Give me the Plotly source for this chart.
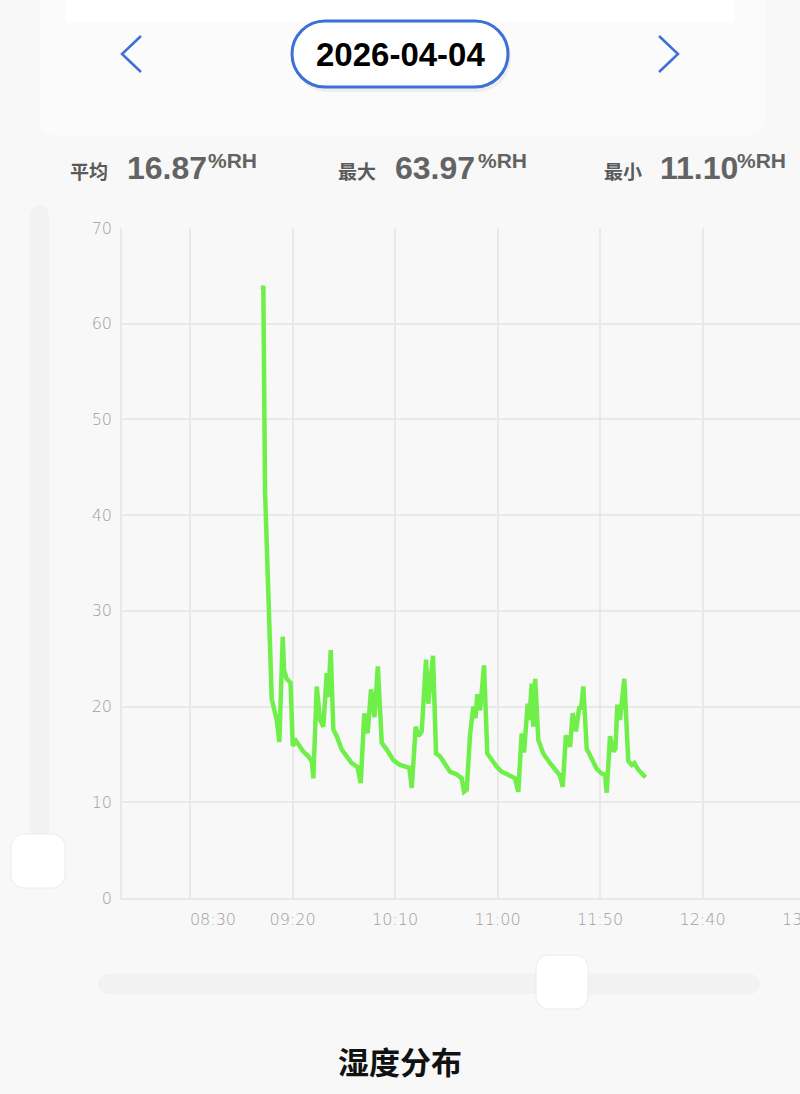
import plotly.graph_objects as go
import datetime as _dt

# ---------------- data ----------------
DATE = "2026-04-04"
times = [
    "09:05:22", "09:05:45", "09:06:35", "09:08:03", "09:09:51", "09:12:17", "09:13:34",
    "09:15:13", "09:15:51", "09:17:10", "09:19:01", "09:20:06", "09:21:42", "09:23:19",
    "09:25:16", "09:27:42", "09:29:22", "09:30:09", "09:31:48", "09:33:25", "09:35:01",
    "09:36:41", "09:37:28", "09:38:38", "09:39:54", "09:41:34", "09:44:00", "09:46:26",
    "09:48:53", "09:51:37", "09:53:16", "09:55:01", "09:56:41", "09:58:17", "10:00:00",
    "10:01:37", "10:03:31", "10:05:57", "10:09:10", "10:12:26", "10:15:43", "10:16:58",
    "10:18:09", "10:20:06", "10:21:22", "10:23:01", "10:25:07", "10:26:14", "10:28:32",
    "10:30:00", "10:31:57", "10:34:23", "10:36:50", "10:40:06", "10:42:32", "10:43:40",
    "10:44:58", "10:46:35", "10:48:11", "10:49:16", "10:50:09", "10:51:28", "10:53:25",
    "10:55:01", "10:57:10", "10:59:37", "11:02:03", "11:05:16", "11:08:32", "11:10:08",
    "11:11:48", "11:12:55", "11:14:44", "11:15:31", "11:16:41", "11:17:28", "11:18:23",
    "11:19:54", "11:22:20", "11:25:37", "11:28:53", "11:30:29", "11:31:48", "11:33:22",
    "11:35:22", "11:36:41", "11:38:17", "11:39:54", "11:40:44", "11:41:51", "11:43:31",
    "11:45:57", "11:48:23", "11:50:50", "11:52:26", "11:53:16", "11:54:53", "11:56:29",
    "11:57:34", "11:58:26", "11:59:45", "12:01:51", "12:03:48", "12:05:28", "12:06:44",
    "12:08:41", "12:10:20", "12:12:11",
]
humidity = [
    63.6, 63.97, 42.5, 32.0, 20.8, 18.6, 16.3,
    27.3, 23.8, 22.9, 22.5, 15.9, 16.4, 15.9,
    15.3, 14.8, 14.3, 12.5, 22.1, 18.6, 17.9,
    23.5, 21.0, 25.9, 17.6, 16.9, 15.5, 14.8,
    14.1, 13.7, 12.0, 19.3, 17.2, 21.8, 18.9,
    24.2, 16.2, 15.5, 14.4, 13.9, 13.7, 13.6,
    11.5, 17.9, 16.9, 17.4, 24.9, 20.3, 25.3,
    15.1, 14.8, 14.1, 13.2, 12.9, 12.5, 11.1,
    11.3, 17.0, 20.0, 18.8, 21.3, 19.6, 24.3,
    15.1, 14.4, 13.7, 13.2, 12.9, 12.5, 11.1,
    17.2, 15.2, 20.3, 18.6, 22.4, 17.9, 22.9,
    16.5, 15.1, 14.1, 13.2, 12.8, 11.6, 17.0,
    15.8, 19.3, 17.4, 20.0, 19.7, 22.1, 15.6,
    14.6, 13.5, 13.0, 12.9, 11.0, 16.9, 15.3,
    15.6, 20.2, 18.6, 22.9, 14.3, 13.9, 14.1,
    13.4, 13.0, 12.6,
]
tick_times = ["08:30", "09:20", "10:10", "11:00", "11:50", "12:40"]
extra_tick = "13:30"
x_range = ["07:56:48", "13:27:34"]
y_ticks = [0, 10, 20, 30, 40, 50, 60, 70]

stats_labels = ["平均", "最大", "最小"]
stats_values = ["16.87", "63.97", "11.10"]
unit = "%RH"
title_text = "湿度分布"

# ---------------- layout geometry (pixels) ----------------
W, H = 800, 1094
ML, MT, MB = 122, 228, 196
PW = W - ML
PH = H - MT - MB


def px(x):
    return (x - ML) / PW


def py(y):
    return (H - MB - y) / PH


def rr(x0, y0, x1, y1, r):
    k = 0.5523 * r
    pts = [
        f"M{px(x0 + r)},{py(y0)}",
        f"L{px(x1 - r)},{py(y0)}",
        f"C{px(x1 - r + k)},{py(y0)} {px(x1)},{py(y0 + r - k)} {px(x1)},{py(y0 + r)}",
        f"L{px(x1)},{py(y1 - r)}",
        f"C{px(x1)},{py(y1 - r + k)} {px(x1 - r + k)},{py(y1)} {px(x1 - r)},{py(y1)}",
        f"L{px(x0 + r)},{py(y1)}",
        f"C{px(x0 + r - k)},{py(y1)} {px(x0)},{py(y1 - r + k)} {px(x0)},{py(y1 - r)}",
        f"L{px(x0)},{py(y0 + r)}",
        f"C{px(x0)},{py(y0 + r - k)} {px(x0 + r - k)},{py(y0)} {px(x0 + r)},{py(y0)}",
        "Z",
    ]
    return " ".join(pts)


def polyline(points):
    return "M" + " L".join(f"{px(a)},{py(b)}" for a, b in points)


BG = "#f8f8f8"
GRID = "#e9e9e9"
LINE = "#70ef4a"
BLUE = "#3d70d6"
TICKFONT = dict(family="DejaVu Sans", size=16, color="#9e9e9e", weight=200)

x_vals = [f"{DATE} {t}" for t in times]

fig = go.Figure()
fig.add_trace(go.Scatter(
    x=x_vals, y=humidity, mode="lines",
    line=dict(color=LINE, width=4.5), hoverinfo="skip", showlegend=False,
))

tick_text = [("\u00a0" * 9 + t) if i == 0 else t for i, t in enumerate(tick_times)]


def shp(path, **kw):
    d = dict(type="path", path=path, xref="paper", yref="paper")
    d.update(kw)
    return d


shapes = [
    shp(rr(40, -20, 765, 135, 14), fillcolor="#fbfbfb", line=dict(width=0), layer="below"),
    shp(rr(65, -20, 735, 22, 4), fillcolor="#ffffff", line=dict(width=0), layer="below"),
    shp(rr(293, 24, 511, 92, 34), fillcolor="rgba(0,0,0,0.05)", line=dict(width=0)),
    shp(rr(292, 21, 508, 87, 33), fillcolor="#ffffff", line=dict(color=BLUE, width=3)),
    shp(polyline([(141, 36), (122, 54), (141, 72)]), line=dict(color=BLUE, width=2.5)),
    shp(polyline([(659, 36), (678, 54), (659, 72)]), line=dict(color=BLUE, width=2.5)),
    shp(rr(30, 206, 49, 880, 9), fillcolor="#f2f2f2", line=dict(width=0), layer="below"),
    shp(rr(11, 834, 65, 888, 13), fillcolor="#ffffff", line=dict(color="#ececec", width=1)),
    shp(rr(98, 974, 760, 994, 10), fillcolor="#f2f2f2", line=dict(width=0), layer="below"),
    shp(rr(536, 955, 588, 1009, 13), fillcolor="#ffffff", line=dict(color="#ececec", width=1)),
]

annotations = [
    dict(x=px(400), y=py(55), xref="paper", yref="paper", text=f"<b>{DATE}</b>", showarrow=False,
         font=dict(family="Liberation Sans, Arial", size=33, color="#000000"), xanchor="center", yanchor="middle"),
    dict(x=px(400), y=py(1060), xref="paper", yref="paper", text=f"<b>{title_text}</b>", showarrow=False,
         font=dict(family="Noto Sans CJK SC", size=31, color="#111111"), xanchor="center", yanchor="middle"),
]

stat_x = [(70, 128, 209), (338, 396, 479), (604, 661, 738)]
for (lx, vx, ux), lab, val in zip(stat_x, stats_labels, stats_values):
    annotations.append(dict(x=px(lx - 2), y=py(170), xref="paper", yref="paper", text=f"<b>{lab}</b>",
                            showarrow=False, xanchor="left", yanchor="middle",
                            font=dict(family="Noto Sans CJK SC", size=19, color="#5a5a5a")))
    annotations.append(dict(x=px(vx - 3), y=py(168), xref="paper", yref="paper", text=f"<b>{val}</b>",
                            showarrow=False, xanchor="left", yanchor="middle",
                            font=dict(family="Liberation Sans, Arial", size=32, color="#636363")))
    annotations.append(dict(x=px(ux - 3), y=py(160), xref="paper", yref="paper", text=f"<b>{unit}</b>",
                            showarrow=False, xanchor="left", yanchor="middle",
                            font=dict(family="Liberation Sans, Arial", size=21, color="#636363")))

# label for the tick just beyond the visible range (clipped by the page edge, as in the reference)
_t0 = _dt.datetime.fromisoformat(f"{DATE} {x_range[0]}")
_t1 = _dt.datetime.fromisoformat(f"{DATE} {x_range[1]}")
_te = _dt.datetime.fromisoformat(f"{DATE} {extra_tick}")
annotations.append(dict(x=(_te - _t0) / (_t1 - _t0), y=py(919), xref="paper", yref="paper", text=extra_tick,
                        showarrow=False, xanchor="center", yanchor="middle", font=TICKFONT))

fig.update_layout(
    width=W, height=H,
    margin=dict(l=ML, r=0, t=MT, b=MB, pad=0),
    paper_bgcolor=BG, plot_bgcolor=BG,
    showlegend=False,
    shapes=shapes,
    annotations=annotations,
    xaxis=dict(
        range=[f"{DATE} {x_range[0]}", f"{DATE} {x_range[1]}"],
        tickvals=[f"{DATE} {t}" for t in tick_times], ticktext=tick_text,
        showgrid=True, gridcolor=GRID, gridwidth=1.5,
        showline=True, linecolor=GRID, linewidth=1.5,
        zeroline=False, ticks="", ticklabelstandoff=6,
        tickfont=TICKFONT,
    ),
    yaxis=dict(
        range=[0, 70], tickvals=y_ticks,
        showgrid=True, gridcolor=GRID, gridwidth=1.5,
        showline=True, linecolor=GRID, linewidth=1.5,
        zeroline=False, ticks="", ticklabelstandoff=5,
        tickfont=TICKFONT,
    ),
)

fig.write_html("out.html")
